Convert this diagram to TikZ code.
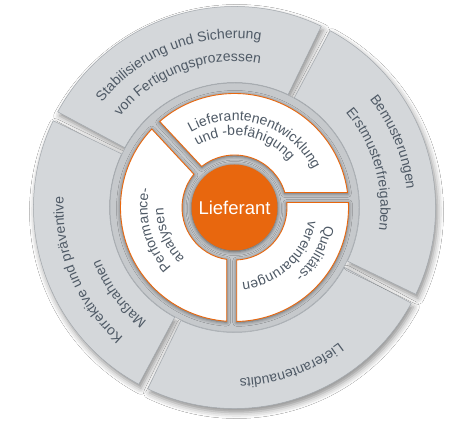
\documentclass[tikz,border=0pt]{standalone}
\usepackage{fontspec}
\setmainfont{Liberation Sans}
\usetikzlibrary{decorations.text,shadows.blur}
\definecolor{segfill}{HTML}{D4D7DA}
\definecolor{segline}{HTML}{A3A8AD}
\definecolor{bezel}{HTML}{C6C9CC}
\definecolor{orng}{HTML}{E8670E}
\definecolor{txt}{HTML}{4F5A66}
\newcommand\ringfont{\fontsize{14}{16}\selectfont}
\begin{document}
\begin{tikzpicture}[x=1pt,y=1pt,
  outerseg/.style={fill=segfill, draw=segline, line width=0.5pt,
    blur shadow={shadow xshift=2pt, shadow yshift=-4pt, shadow blur radius=6pt, shadow opacity=45}},
  innerseg/.style={fill=white, draw=orng, line width=0.9pt,
    blur shadow={shadow xshift=0pt, shadow yshift=-1pt, shadow blur radius=4pt, shadow opacity=55}},
  ringtext/.style={decorate, decoration={text along path, text color=txt, text={|\ringfont|#1}}},
  corestyle/.style={circle, fill=orng, minimum size=86pt, inner sep=0pt, text=white,
    font=\fontsize{18.5}{20}\selectfont,
    blur shadow={shadow xshift=0pt, shadow yshift=-1pt, shadow blur radius=4pt, shadow opacity=60}}
]
\useasboundingbox (0,0) rectangle (465,431);
\fill[white] (0,0) rectangle (465,431);
\begin{scope}[shift={(234.5,223.5)}]
% outer segments
\foreach \a in {63,153,243,333} {
  \pgfmathsetmacro\ao{\a+1.425}
  \pgfmathsetmacro\bo{\a+90-1.425}
  \pgfmathsetmacro\ai{\a+1.605}
  \pgfmathsetmacro\bi{\a+90-1.605}
  \path[outerseg] (\ao:201pt) arc[start angle=\ao, end angle=\bo, radius=201pt]
     -- (\bi:125pt) arc[start angle=\bi, end angle=\ai, radius=125pt] -- cycle;
}
% bezel disk
\path[fill=bezel, draw=segline, line width=0.5pt] (0,0) circle[radius=124.5pt];
% inner segments
\path[innerseg] (7.56:114pt) arc[start angle=7.56,end angle=130.99,radius=114pt]
   -- (128.63:52.5pt) arc[start angle=128.63,end angle=16.60,radius=52.5pt] -- cycle;
\path[innerseg] (2.51:114pt) arc[start angle=2.51,end angle=-88.89,radius=114pt]
   -- (-87.60:52.5pt) arc[start angle=-87.60,end angle=5.47,radius=52.5pt] -- cycle;
\path[innerseg] (136.52:114pt) arc[start angle=136.52,end angle=266.08,radius=114pt]
   -- (261.46:52.5pt) arc[start angle=261.46,end angle=140.66,radius=52.5pt] -- cycle;
% core
\node[corestyle] (core) at (0,0) {Lieferant};
% outer texts
\path[ringtext={Stabilisierung und Sicherung}] (141.5:169pt) arc[start angle=141.5,end angle=50,radius=169pt];
\path[ringtext={von Fertigungsprozessen}] (141.5:146pt) arc[start angle=141.5,end angle=50,radius=146pt];
\path[ringtext={Bemusterungen}] (38.7:173pt) arc[start angle=38.7,end angle=-20,radius=173pt];
\path[ringtext={Erstmusterfreigaben}] (40.5:146pt) arc[start angle=40.5,end angle=-30,radius=146pt];
\path[ringtext={Lieferantenaudits}] (-52.3:171pt) arc[start angle=-52.3,end angle=-130,radius=171pt];
\path[ringtext={Korrektive und präventive}] (229.5:171pt) arc[start angle=229.5,end angle=140,radius=171pt];
\path[ringtext={Maßnahmen}] (232.5:144pt) arc[start angle=232.5,end angle=160,radius=144pt];
% inner texts
\path[ringtext={Lieferantenentwicklung}] (120:87pt) arc[start angle=120,end angle=0,radius=87pt];
\path[ringtext={und -befähigung}] (121:72pt) arc[start angle=121,end angle=10,radius=72pt];
\path[ringtext={Performance-}] (223.5:87pt) arc[start angle=223.5,end angle=140,radius=87pt];
\path[ringtext={analysen}] (225.5:71pt) arc[start angle=225.5,end angle=130,radius=71pt];
\path[ringtext={Qualitäts-}] (-11:92pt) arc[start angle=-11,end angle=-100,radius=92pt];
\path[ringtext={vereinbarungen}] (-10:75pt) arc[start angle=-10,end angle=-120,radius=75pt];
\end{scope}
\end{tikzpicture}
\end{document}
